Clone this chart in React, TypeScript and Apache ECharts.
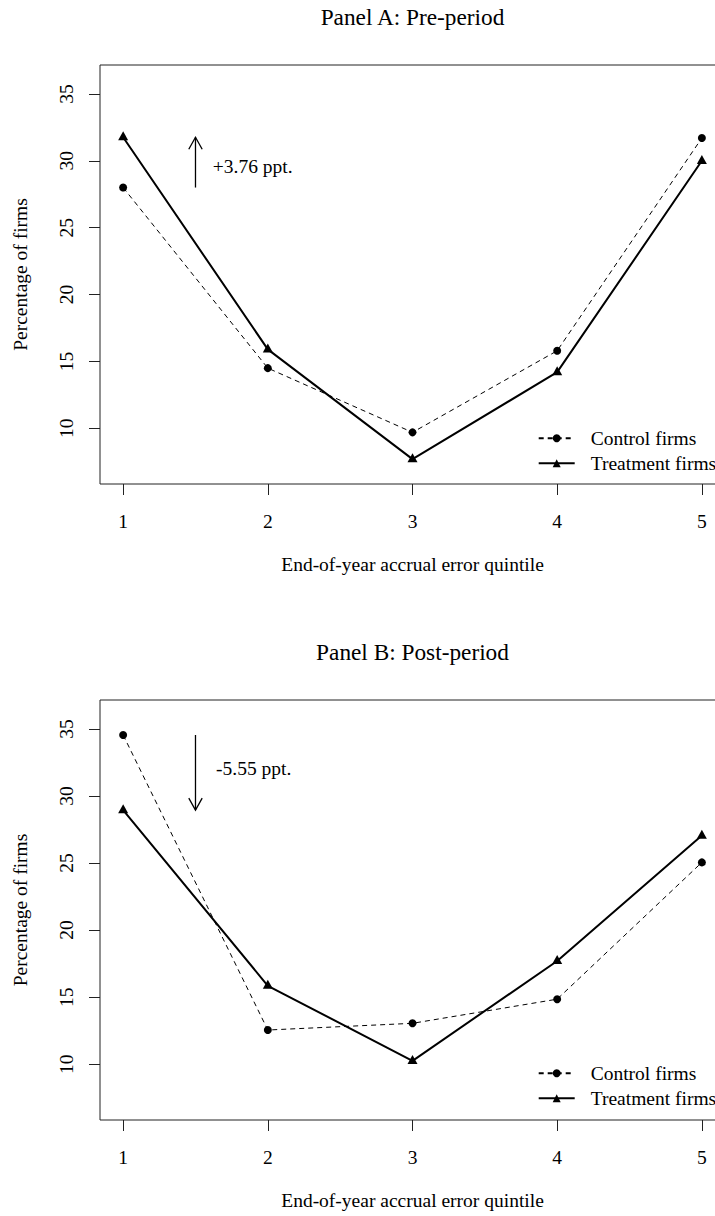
import React, { useEffect, useRef } from "react";
import * as echarts from "echarts";

// ---- data ----
const quintiles = [1, 2, 3, 4, 5];
const preControl = [28.0, 14.5, 9.7, 15.8, 31.7];
const preTreatment = [31.76, 15.9, 7.7, 14.2, 30.0];
const postControl = [34.55, 12.55, 13.05, 14.85, 25.05];
const postTreatment = [28.95, 15.85, 10.25, 17.7, 27.05];
const yTicks = [10, 15, 20, 25, 30, 35];
const xTicks = [1, 2, 3, 4, 5];
const panelTitles = ["Panel A: Pre-period", "Panel B: Post-period"];
const arrowX = 1.5;
const annotationTexts = ["+3.76 ppt.", "-5.55 ppt."];
const annotationX = [1.62, 1.642];
const annotationY = [29.6, 32.05];
const seriesNames = ["Control firms", "Treatment firms"];

const FONT = '"Liberation Serif", "Times New Roman", Times, serif';
const FS = 19.5;
const INK = "#000";
const FRAME = "#222";

function buildOption() {
  const grids = [
    { left: 100, top: 65, width: 625, height: 419 },
    { left: 100, top: 700, width: 625, height: 420 },
  ].map((g) => ({ ...g, show: true, borderColor: FRAME, borderWidth: 1, backgroundColor: "transparent" }));

  const xAxes = [0, 1].map((i) => ({
    type: "value",
    gridIndex: i,
    min: 0.84,
    max: 5.16,
    splitLine: { show: false },
    axisLine: { show: false },
    axisTick: { show: true, inside: false, length: 11, lineStyle: { color: FRAME, width: 1 }, customValues: xTicks },
    axisLabel: {
      show: true,
      customValues: xTicks,
      margin: 28,
      fontSize: FS,
      lineHeight: 19,
      fontFamily: FONT,
      color: INK,
      hideOverlap: false,
    },
    name: "End-of-year accrual error quintile",
    nameLocation: "middle",
    nameGap: 71,
    nameTextStyle: { fontSize: FS, lineHeight: 19, fontFamily: FONT, color: INK },
  }));

  const yAxes = [0, 1].map((i) => ({
    type: "value",
    gridIndex: i,
    min: 5.84,
    max: 37.16,
    splitLine: { show: false },
    axisLine: { show: false },
    axisTick: { show: true, inside: false, length: 11, lineStyle: { color: FRAME, width: 1 }, customValues: yTicks },
    axisLabel: {
      show: true,
      customValues: yTicks,
      rotate: 90,
      margin: 24,
      fontSize: FS,
      lineHeight: 19,
      fontFamily: FONT,
      color: INK,
      hideOverlap: false,
    },
    name: "Percentage of firms",
    nameLocation: "middle",
    nameRotate: 90,
    nameGap: 70,
    nameTextStyle: { fontSize: FS, lineHeight: 19, fontFamily: FONT, color: INK },
  }));

  const controlStyle = {
    type: "line",
    symbol: "circle",
    symbolSize: 8,
    itemStyle: { color: INK },
    lineStyle: { color: INK, width: 1, type: [5, 4] },
  };
  const treatmentStyle = {
    type: "line",
    symbol: "triangle",
    symbolSize: [10, 9],
    symbolOffset: [0, -1.4],
    itemStyle: { color: INK },
    lineStyle: { color: INK, width: 2, type: "solid" },
  };

  const panels = [
    { control: preControl, treatment: preTreatment },
    { control: postControl, treatment: postTreatment },
  ];

  const series: any[] = [];
  panels.forEach((p, i) => {
    series.push({
      ...controlStyle,
      name: seriesNames[0],
      xAxisIndex: i,
      yAxisIndex: i,
      data: quintiles.map((q, k) => [q, p.control[k]]),
      z: 3,
    });
    series.push({
      ...treatmentStyle,
      name: seriesNames[1],
      xAxisIndex: i,
      yAxisIndex: i,
      data: quintiles.map((q, k) => [q, p.treatment[k]]),
      z: 4,
    });
    series.push({
      type: "custom",
      name: "annotation" + i,
      xAxisIndex: i,
      yAxisIndex: i,
      silent: true,
      data: [[arrowX, p.control[0], p.treatment[0], annotationX[i], annotationY[i]]],
      renderItem: (params: any, api: any) => {
        const x = api.value(0);
        const a = api.coord([x, api.value(1)]);
        const b = api.coord([x, api.value(2)]);
        const dir = b[1] < a[1] ? -1 : 1;
        const t = api.coord([api.value(3), api.value(4)]);
        return {
          type: "group",
          children: [
            {
              type: "line",
              shape: { x1: a[0], y1: a[1], x2: b[0], y2: b[1] },
              style: { stroke: INK, lineWidth: 1.3 },
            },
            {
              type: "polyline",
              shape: {
                points: [
                  [b[0] - 6.7, b[1] - dir * 12],
                  [b[0], b[1]],
                  [b[0] + 6.7, b[1] - dir * 12],
                ],
              },
              style: { stroke: INK, lineWidth: 1.3, fill: "none" },
            },
            {
              type: "text",
              x: t[0],
              y: t[1],
              style: {
                text: annotationTexts[i],
                fill: INK,
                font: `${FS}px ${FONT}`,
                textAlign: "left",
                textVerticalAlign: "middle",
              },
            },
          ],
        };
      },
    });
  });

  const legends = [428.3, 1063.3].map((top) => ({
    data: seriesNames,
    orient: "vertical",
    left: 537.7,
    top,
    padding: 0,
    itemWidth: 36,
    itemHeight: 10,
    itemGap: 5,
    selectedMode: false,
    textStyle: { fontSize: FS, lineHeight: 19, fontFamily: FONT, color: INK, padding: [0, 0, 0, 11] },
  }));

  const graphic = panelTitles.map((t, i) => ({
    type: "text",
    x: 412.5,
    y: 17 + i * 635,
    style: {
      text: t,
      fill: INK,
      font: `23.3px ${FONT}`,
      textAlign: "center",
      textVerticalAlign: "middle",
    },
  }));

  return {
    animation: false,
    backgroundColor: "#fff",
    grid: grids,
    xAxis: xAxes,
    yAxis: yAxes,
    legend: legends,
    series,
    graphic,
  };
}

export default function App() {
  const ref = useRef<HTMLDivElement>(null);
  useEffect(() => {
    if (!ref.current) return;
    const chart = echarts.init(ref.current, null, { renderer: "svg" });
    chart.setOption(buildOption() as any);
    return () => chart.dispose();
  }, []);
  return (
    <div
      style={{
        position: "absolute",
        left: 0,
        top: 0,
        width: 715,
        height: 1216,
        overflow: "hidden",
        background: "#fff",
      }}
    >
      <div ref={ref} style={{ width: 760, height: 1216 }} />
    </div>
  );
}
